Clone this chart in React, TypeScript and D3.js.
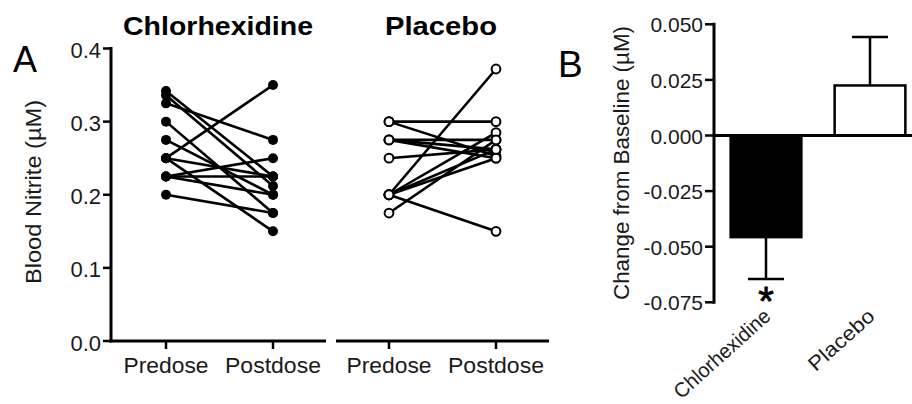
import React from "react";
import * as d3 from "d3";

// Panel A: paired blood nitrite (µM) per subject, before and after dosing
const timepoints = ["Predose", "Postdose"];
const chxPre = [0.342, 0.336, 0.325, 0.3, 0.275, 0.25, 0.25, 0.25, 0.225, 0.225, 0.225, 0.2];
const chxPost = [0.225, 0.212, 0.275, 0.175, 0.2, 0.35, 0.15, 0.225, 0.25, 0.225, 0.2, 0.175];
const plaPre = [0.3, 0.3, 0.275, 0.275, 0.275, 0.25, 0.2, 0.2, 0.2, 0.2, 0.2, 0.175];
const plaPost = [0.3, 0.253, 0.275, 0.262, 0.25, 0.262, 0.372, 0.15, 0.25, 0.285, 0.262, 0.275];
const nitriteTicks = [0, 0.1, 0.2, 0.3, 0.4];

// Panel B: mean change from baseline with SEM
const groups = ["Chlorhexidine", "Placebo"];
const meanChange = [-0.0457, 0.0225];
const semChange = [0.0188, 0.0218];
const changeTicks = [-0.075, -0.05, -0.025, 0, 0.025, 0.05];

const W = 912;
const H = 404;
const FONT = "'Liberation Sans', Arial, Helvetica, sans-serif";
const INK = "#000";
const TXT = "#1a1a1a";

// fitted widths for the wider typeface of the labels
const timepointWidth: Record<string, number> = { Predose: 85, Postdose: 96 };
const groupLabelWidth: Record<string, number> = { Chlorhexidine: 122, Placebo: 81 };

export default function App() {
  // Panel A scales
  const yA = d3.scaleLinear().domain([0, 0.4]).range([341, 48.5]);
  const xChx = d3.scalePoint<string>().domain(timepoints).range([166, 273]);
  const xPla = d3.scalePoint<string>().domain(timepoints).range([389, 496]);
  const axA = 111;

  // Panel B scales
  const yB = d3.scaleLinear().domain([-0.075, 0.05]).range([302.3, 24.3]);
  const axB = 714;
  const xB = d3
    .scaleBand<string>()
    .domain(groups)
    .range([axB, 922])
    .paddingInner(0.32)
    .paddingOuter(0.16);

  const pairs = (pre: number[], post: number[]) => pre.map((p, i) => [p, post[i]]);

  const renderGroup = (
    x: d3.ScalePoint<string>,
    data: number[][],
    filled: boolean,
    key: string
  ) => (
    <g key={key}>
      {data.map(([a, b], i) => (
        <line
          key={"l" + i}
          x1={x("Predose")}
          y1={yA(a)}
          x2={x("Postdose")}
          y2={yA(b)}
          stroke={INK}
          strokeWidth={2.6}
        />
      ))}
      {data.map(([a, b], i) => (
        <g key={"p" + i}>
          {[x("Predose"), x("Postdose")].map((cx, j) => (
            <circle
              key={j}
              cx={cx}
              cy={yA(j === 0 ? a : b)}
              r={filled ? 5 : 4.4}
              fill={filled ? INK : "#fff"}
              stroke={INK}
              strokeWidth={filled ? 0 : 2}
            />
          ))}
        </g>
      ))}
    </g>
  );

  const xAxis = (x: d3.ScalePoint<string>, x0: number, x1: number, key: string) => (
    <g key={key}>
      <line x1={x0} y1={yA(0)} x2={x1} y2={yA(0)} stroke={INK} strokeWidth={3} />
      {timepoints.map((t) => (
        <g key={t}>
          <line x1={x(t)} y1={yA(0)} x2={x(t)} y2={yA(0) + 8} stroke={INK} strokeWidth={2.5} />
          <text
            x={x(t)}
            y={373}
            textAnchor="middle"
            fontSize={21.5}
            fill={TXT}
            fontFamily={FONT}
            textLength={timepointWidth[t]}
            lengthAdjust="spacingAndGlyphs"
          >
            {t}
          </text>
        </g>
      ))}
    </g>
  );

  return (
    <svg
      width={W}
      height={H}
      viewBox={`0 0 ${W} ${H}`}
      style={{ position: "absolute", left: 0, top: 0, background: "#fff" }}
    >
      <rect x={0} y={0} width={W} height={H} fill="#fff" />

      {/* Panel A */}
      <text x={13} y={72} fontSize={36} fill={INK} fontFamily={FONT}>
        A
      </text>
      <text
        x={218}
        y={34.5}
        textAnchor="middle"
        fontSize={26}
        fontWeight="bold"
        fill={INK}
        fontFamily={FONT}
        textLength={190}
        lengthAdjust="spacingAndGlyphs"
      >
        Chlorhexidine
      </text>
      <text
        x={441}
        y={34.5}
        textAnchor="middle"
        fontSize={26}
        fontWeight="bold"
        fill={INK}
        fontFamily={FONT}
        textLength={112}
        lengthAdjust="spacingAndGlyphs"
      >
        Placebo
      </text>
      <text
        transform={`translate(41, 192) rotate(-90)`}
        textAnchor="middle"
        fontSize={22}
        fill={TXT}
        fontFamily={FONT}
        textLength={184}
        lengthAdjust="spacingAndGlyphs"
      >
        Blood Nitrite (µM)
      </text>

      <line x1={axA} y1={yA(0.4) - 1.5} x2={axA} y2={yA(0) + 1.5} stroke={INK} strokeWidth={3} />
      {nitriteTicks.map((t) => (
        <g key={t}>
          <line x1={axA - 8} y1={yA(t)} x2={axA} y2={yA(t)} stroke={INK} strokeWidth={2.5} />
          <text x={axA - 10} y={yA(t) + 9.5} textAnchor="end" fontSize={22} fill={TXT} fontFamily={FONT}>
            {d3.format(".1f")(t)}
          </text>
        </g>
      ))}

      {xAxis(xChx, axA - 1.5, 326, "axChx")}
      {xAxis(xPla, 336, 549, "axPla")}

      {renderGroup(xChx, pairs(chxPre, chxPost), true, "chx")}
      {renderGroup(xPla, pairs(plaPre, plaPost), false, "pla")}

      {/* Panel B */}
      <text x={558} y={77} fontSize={37} fill={INK} fontFamily={FONT}>
        B
      </text>
      <text
        transform={`translate(629, 163) rotate(-90)`}
        textAnchor="middle"
        fontSize={22}
        fill={TXT}
        fontFamily={FONT}
        textLength={274}
        lengthAdjust="spacingAndGlyphs"
      >
        Change from Baseline (µM)
      </text>

      {groups.map((g, i) => {
        const m = meanChange[i];
        const s = semChange[i];
        const bx = xB(g) as number;
        const bw = xB.bandwidth();
        const cx = bx + bw / 2;
        const tip = m < 0 ? m - s : m + s;
        return (
          <g key={g}>
            <line x1={cx} y1={yB(m)} x2={cx} y2={yB(tip)} stroke={INK} strokeWidth={2.5} />
            <line x1={cx - 18} y1={yB(tip)} x2={cx + 18} y2={yB(tip)} stroke={INK} strokeWidth={2.5} />
            <rect
              x={bx}
              y={Math.min(yB(m), yB(0))}
              width={bw}
              height={Math.abs(yB(m) - yB(0))}
              fill={m < 0 ? INK : "#fff"}
              stroke={INK}
              strokeWidth={2.5}
            />
            <text
              transform={`translate(${cx + 6}, 318) rotate(-42)`}
              textAnchor="end"
              fontSize={20.5}
              fill={TXT}
              fontFamily={FONT}
              textLength={groupLabelWidth[g]}
              lengthAdjust="spacingAndGlyphs"
            >
              {g}
            </text>
          </g>
        );
      })}

      <text
        x={(xB("Chlorhexidine") as number) + xB.bandwidth() / 2}
        y={315}
        textAnchor="middle"
        fontSize={40}
        fill={INK}
        stroke={INK}
        strokeWidth={0.8}
        fontFamily={FONT}
      >
        *
      </text>

      <line x1={axB} y1={yB(0.05) - 1.5} x2={axB} y2={yB(-0.075) + 1.5} stroke={INK} strokeWidth={3} />
      <line x1={axB} y1={yB(0)} x2={W} y2={yB(0)} stroke={INK} strokeWidth={3} />
      {changeTicks.map((t) => (
        <g key={t}>
          <line x1={axB - 9} y1={yB(t)} x2={axB} y2={yB(t)} stroke={INK} strokeWidth={2.5} />
          <text x={axB - 11} y={yB(t) + 8} textAnchor="end" fontSize={21} fill={TXT} fontFamily={FONT}>
            {d3.format(".3f")(t).replace("−", "-")}
          </text>
        </g>
      ))}
    </svg>
  );
}
